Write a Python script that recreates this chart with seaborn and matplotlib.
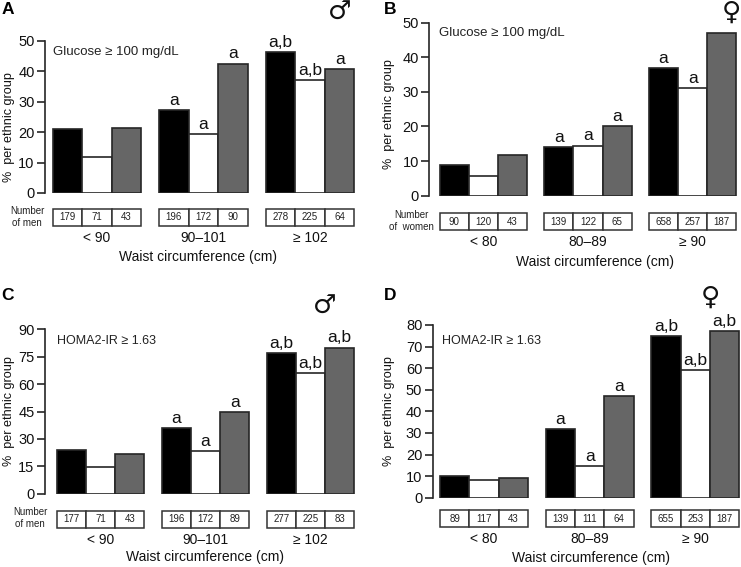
import pandas as pd
import matplotlib.pyplot as plt
from matplotlib.patches import Rectangle
import seaborn as sns

# Values
ethnic_groups = ["Group 1", "Group 2", "Group 3"]

waist_men = ["< 90", "90\u2013101", "\u2265 102"]
waist_women_a = ["< 80", "80\u201389", "\u2265 90"]

glucose_men = [[21, 27.3, 46.2], [11.7, 19.4, 37], [21.3, 42.5, 40.7]]
glucose_women = [[9, 14, 37], [5.6, 14.5, 31], [11.8, 20.2, 47]]
homa_men = [[24, 36, 77], [14.6, 23.3, 66.3], [21.6, 44.7, 80]]
homa_women = [[10, 31.8, 74.7], [8.3, 14.6, 59], [9.3, 47.2, 77]]

counts_a = [[179, 196, 278], [71, 172, 225], [43, 90, 64]]
counts_b = [[90, 139, 658], [120, 122, 257], [43, 65, 187]]
counts_c = [[177, 196, 277], [71, 172, 225], [43, 89, 83]]
counts_d = [[89, 139, 655], [117, 111, 253], [43, 64, 187]]

marks_a = [["", "a", "a,b"], ["", "a", "a,b"], ["", "a", "a"]]
marks_b = [["", "a", "a"], ["", "a", "a"], ["", "a", ""]]
marks_c = [["", "a", "a,b"], ["", "a", "a,b"], ["", "a", "a,b"]]
marks_d = [["", "a", "a,b"], ["", "a", "a,b"], ["", "a", "a,b"]]

yticks_a = [0, 10, 20, 30, 40, 50]
yticks_c = [0, 15, 30, 45, 60, 75, 90]
yticks_d = [0, 10, 20, 30, 40, 50, 60, 70, 80]

W, H = 741, 567

sns.set_style("ticks")
plt.rcParams["font.family"] = ["Liberation Sans", "DejaVu Sans"]
bar_colors = ["#000000", "#ffffff", "#666666"]
line_color = "#262626"

fig = plt.figure(figsize=(W / 100, H / 100), dpi=100)


def fig_text(x, y, s, **kw):
    # x, y in picture pixels
    return fig.text(x / W, 1 - y / H, s, **kw)


def draw_panel(letter, letter_xy, values, groups, counts, marks, yticks, note, note_xy, note_size,
               left, top, bottom, centers, table_y, xlabel_xy, ylabel_xy,
               who=None, who_xy=None, symbol=None, symbol_xy=None):
    right = left + 311
    ax = fig.add_axes([left / W, 1 - bottom / H, (right - left) / W, (bottom - top) / H])
    ax.patch.set_alpha(0)

    rows = []
    for name, series in zip(ethnic_groups, values):
        for group, val in zip(groups, series):
            rows.append({"waist": group, "pct": val, "ethnic": name})
    df = pd.DataFrame(rows)

    sns.barplot(x="waist", y="pct", hue="ethnic", data=df, palette=bar_colors, width=0.835, gap=0,
                saturation=1, edgecolor=line_color, linewidth=1.2, legend=False, ax=ax)

    step = (centers[2] - centers[0]) / 2
    ax.set_xlim((left - centers[0]) / step, (right - centers[0]) / step)
    ax.set_ylim(yticks[0], yticks[-1])
    ax.set_yticks(yticks)
    sns.despine(ax=ax, bottom=True)
    ax.spines["left"].set_linewidth(1.2)
    ax.spines["left"].set_color(line_color)
    ax.tick_params(axis="y", length=6, width=1.2, color=line_color, labelsize=10.5, pad=1.5, labelcolor="#111111")
    ax.tick_params(axis="x", length=0, labelsize=10, pad=(table_y[1] - bottom + 5) * 0.72, labelcolor="#111111")

    bars = sorted(ax.patches, key=lambda p: p.get_x())
    bars = [b for b in bars if b.get_width() > 0]
    flat_counts = [counts[j][i] for i in range(3) for j in range(3)]
    flat_marks = [marks[j][i] for i in range(3) for j in range(3)]

    # count boxes under the bars, same columns as the bars
    box_h = (table_y[1] - table_y[0]) / (bottom - top)
    box_y = (bottom - table_y[1]) / (bottom - top)
    for bar, n, mark in zip(bars, flat_counts, flat_marks):
        x = bar.get_x()
        w = bar.get_width()
        ax.add_patch(Rectangle((x, box_y), w, box_h, transform=ax.get_xaxis_transform(), clip_on=False,
                               facecolor="white", edgecolor="#333333", linewidth=1.1))
        ax.text(x + w / 2, box_y + box_h / 2, str(n), transform=ax.get_xaxis_transform(), ha="center",
                va="center", fontsize=7, color="#222222")
        if mark:
            ax.annotate(mark, (x + w / 2, bar.get_height()), xytext=(0, 1.5), textcoords="offset points",
                        ha="center", va="bottom", fontsize=12.5, color="#111111", annotation_clip=False)

    ax.set_xlabel("")
    ax.set_ylabel("")
    fig_text(xlabel_xy[0], xlabel_xy[1], "Waist circumference (cm)", ha="center", va="center", fontsize=10, color="#111111")
    fig_text(ylabel_xy[0], ylabel_xy[1], "%  per ethnic group", rotation=90, ha="center", va="center", fontsize=9.1, color="#111111")
    fig_text(note_xy[0], note_xy[1], note, ha="left", va="center", fontsize=note_size, color="#222222")
    fig_text(letter_xy[0], letter_xy[1], letter, ha="center", va="center", fontsize=12.5, fontweight="bold", color="black")
    if who:
        fig_text(who_xy[0], who_xy[1], who, ha="center", va="center", fontsize=7, color="#222222", linespacing=1.3)
    if symbol:
        fig_text(symbol_xy[0], symbol_xy[1], symbol, ha="center", va="center", fontsize=19, color="#111111",
                 family="DejaVu Sans")
    return ax


draw_panel("A", (8, 9), glucose_men, waist_men, counts_a, marks_a, yticks_a,
           "Glucose \u2265 100 mg/dL", (53, 52), 9.5, 45, 40.7, 193, (97, 203.5, 310), (209, 226),
           (198, 257), (9, 127), "Number\nof men", (27, 217), "\u2642", (340, 13))
draw_panel("B", (390, 9), glucose_women, waist_women_a, counts_b, marks_b, yticks_a,
           "Glucose \u2265 100 mg/dL", (439, 33), 9.5, 429.3, 22.7, 195.7, (483.3, 587.5, 692.7), (213.3, 230),
           (595, 262), (389, 114), "Number\nof  women", (411, 221), "\u2640", (731, 13))
draw_panel("C", (8, 295), homa_men, waist_men, counts_c, marks_c, yticks_c,
           "HOMA2-IR \u2265 1.63", (57, 341), 9, 45, 329.3, 493.7, (100.5, 205, 310.5), (511, 527.7),
           (205, 557), (9, 411), "Number\nof men", (30, 518), "\u2642", (325, 307))
draw_panel("D", (390, 295), homa_women, waist_women_a, counts_d, marks_d, yticks_d,
           "HOMA2-IR \u2265 1.63", (442, 341), 9, 432.7, 325, 497.7, (484, 589.7, 695.3), (510, 527.3),
           (591, 558), (389, 411), None, None, "\u2640", (710, 298))

fig.savefig("out.png", dpi=100, facecolor="white")
